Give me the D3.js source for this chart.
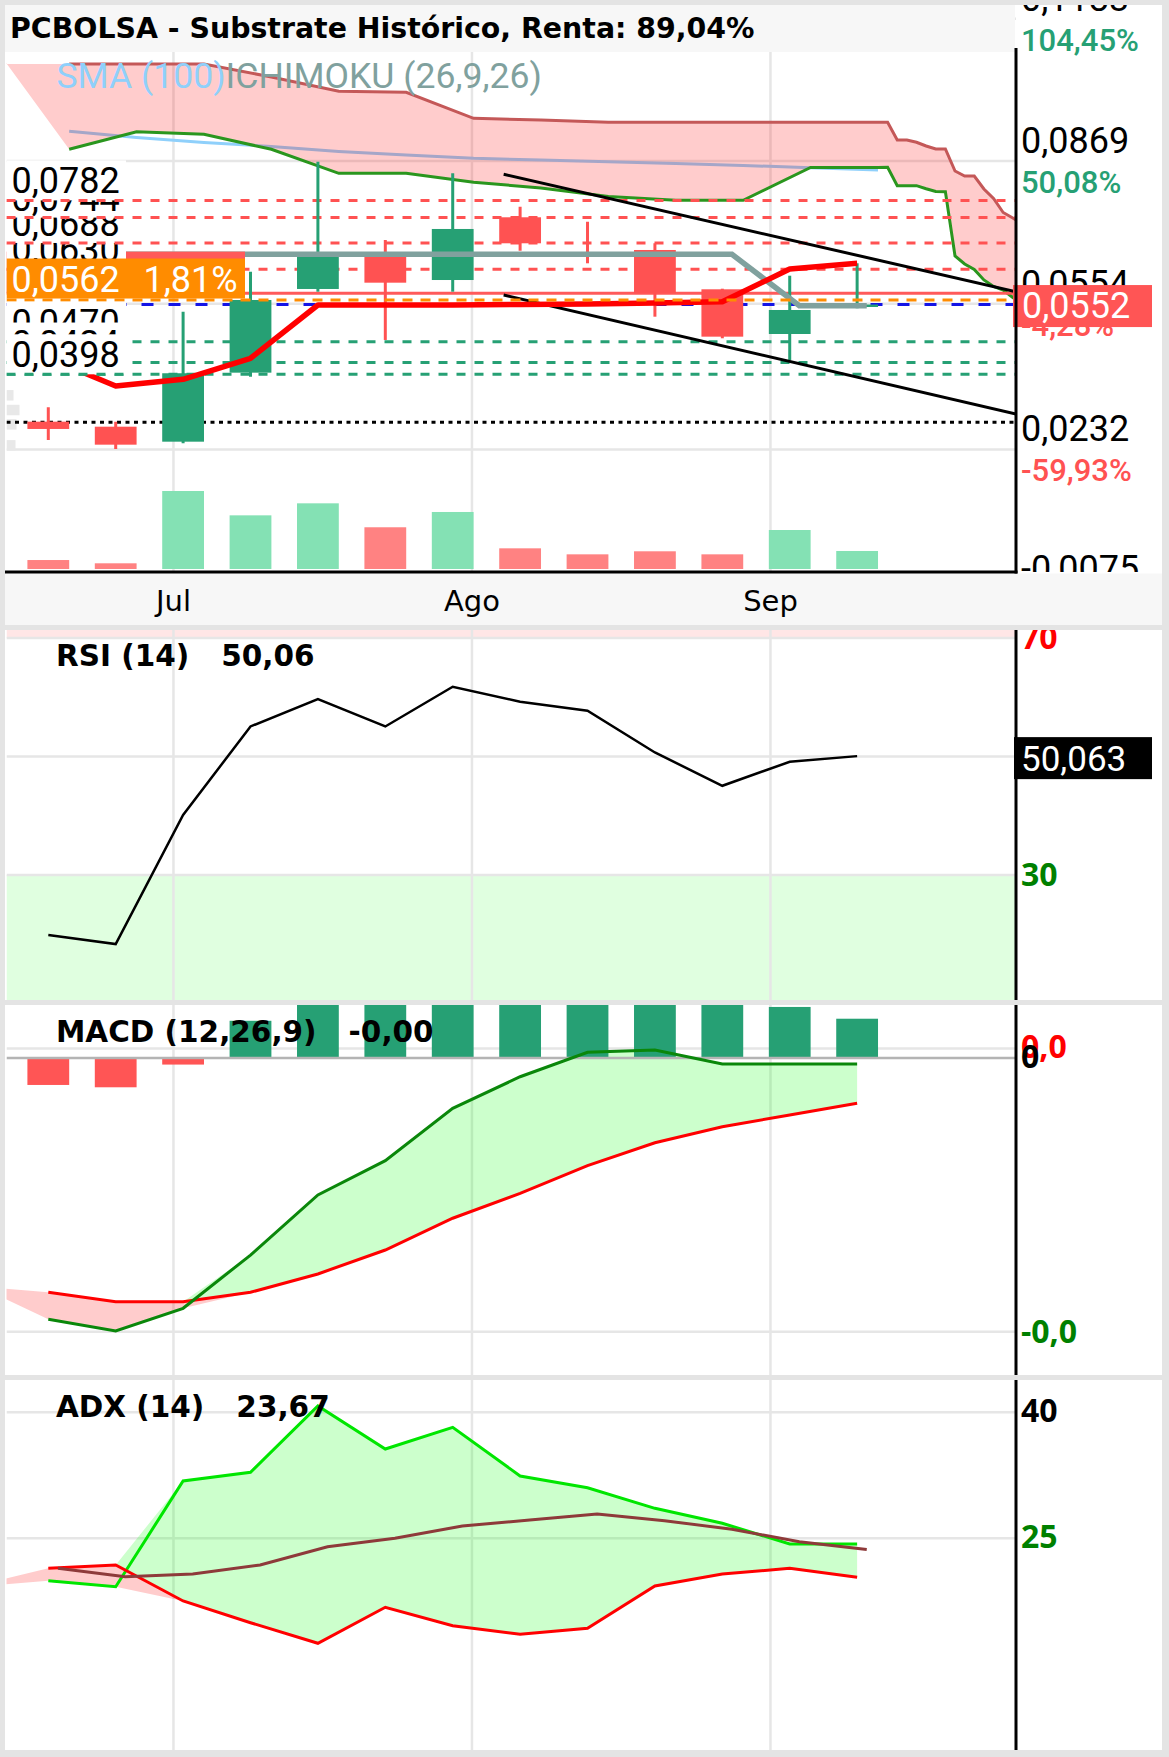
<!DOCTYPE html>
<html><head><meta charset="utf-8">
<script src="https://cdn.jsdelivr.net/npm/d3@7/dist/d3.min.js"></script>
<style>
html,body{margin:0;padding:0;background:#fff;}
svg{display:block;}
</style></head>
<body>
<svg id="chart" width="1169" height="1757"></svg>
<script>
// ================= DATA =================
const titleText = "PCBOLSA - Substrate Histórico, Renta: 89,04%";
const candleDates = ["2018-06-18","2018-06-25","2018-07-02","2018-07-09","2018-07-16","2018-07-23","2018-07-30","2018-08-06","2018-08-13","2018-08-20","2018-08-27","2018-09-03","2018-09-10"];
const openP  = [0.02934,0.02823,0.02492,0.04016,0.05864,0.06637,0.06062,0.07447,0.06650,0.06725,0.05857,0.04870,0.05466];
const highP  = [0.03252,0.02934,0.05363,0.06246,0.08675,0.06946,0.08418,0.07681,0.07350,0.06873,0.05870,0.06157,0.06431];
const lowP   = [0.02530,0.02331,0.02457,0.03927,0.05804,0.04738,0.05804,0.06709,0.06431,0.05252,0.04775,0.04296,0.05438];
const closeP = [0.02773,0.02426,0.04003,0.05621,0.06637,0.06003,0.07189,0.06873,0.06630,0.05769,0.04811,0.05400,0.05520];
const volume = [1150,730,10000,6880,8420,5350,7310,2650,1880,2270,1880,5000,2310];

// Ichimoku: fast (red, thick) on candle dates, slow (grey, thick) one day later
const tenkanRed = [0.0434,0.03722,0.0387,0.04334,0.0551,0.0551,0.0551,0.05522,0.05533,0.05555,0.05583,0.06305,0.06431];
const kijunDates = ["2018-06-19","2018-06-26","2018-07-03","2018-07-10","2018-07-17","2018-07-24","2018-07-31","2018-08-07","2018-08-14","2018-08-21","2018-08-28","2018-09-04","2018-09-11"];
const kijunGray = [0.0663,0.0663,0.0663,0.0663,0.0663,0.0663,0.0663,0.0663,0.0663,0.0663,0.0663,0.05495,0.05495];

// Cloud (senkou spans), weekly then daily projection
const cloudDates = ["2018-06-13T04:00:00Z","2018-06-20T04:00:00Z","2018-06-27T04:00:00Z","2018-07-04T04:00:00Z","2018-07-11T04:00:00Z","2018-07-18T04:00:00Z","2018-07-25T04:00:00Z","2018-08-01T04:00:00Z","2018-08-08T04:00:00Z","2018-08-15T04:00:00Z","2018-08-22T04:00:00Z","2018-08-29T04:00:00Z","2018-09-05T04:00:00Z","2018-09-12T04:00:00Z",
  "2018-09-13T04:00:00Z","2018-09-14T04:00:00Z","2018-09-15T04:00:00Z","2018-09-16T04:00:00Z","2018-09-17T04:00:00Z","2018-09-18T04:00:00Z","2018-09-19T04:00:00Z","2018-09-20T04:00:00Z","2018-09-21T04:00:00Z","2018-09-22T04:00:00Z","2018-09-23T04:00:00Z","2018-09-24T04:00:00Z","2018-09-25T04:00:00Z","2018-09-26T04:00:00Z","2018-09-27T04:00:00Z"];
const senkouA = [0.10986,0.08948,0.09337,0.09280,0.08948,0.08418,0.08418,0.08220,0.08094,0.07906,0.07822,0.07822,0.08546,0.08546,
  0.08551,0.08145,0.08145,0.08145,0.08078,0.08017,0.08012,0.06592,0.06416,0.06294,0.06063,0.05919,0.05842,0.05676,0.05533];
const senkouB = [0.10832,0.10832,0.10832,0.10832,0.10545,0.10229,0.10207,0.09633,0.09595,0.09544,0.09544,0.09544,0.09544,0.09544,
  0.09544,0.09154,0.09154,0.09103,0.09021,0.08955,0.08955,0.08469,0.08359,0.08359,0.08072,0.07862,0.07553,0.07431,0.07299];
const smaDates = ["2018-06-20T04:00:00Z","2018-06-27T04:00:00Z","2018-07-04T04:00:00Z","2018-07-11T04:00:00Z","2018-07-18T04:00:00Z","2018-07-25T04:00:00Z","2018-08-01T04:00:00Z","2018-08-08T04:00:00Z","2018-08-15T04:00:00Z","2018-08-22T04:00:00Z","2018-08-29T04:00:00Z","2018-09-05T04:00:00Z","2018-09-12T04:00:00Z"];
const sma100 = [0.09346,0.09209,0.09098,0.09010,0.08900,0.08822,0.08750,0.08712,0.08675,0.08635,0.08591,0.08542,0.08491];

// Channel trend lines
const trendDates = ["2018-08-04T07:00:00Z","2018-09-26T12:00:00Z"];
const trendUpper = [0.08396,0.05804];
const trendLower = [0.05731,0.03104];

// Horizontal levels
const resistLevels = [0.0630,0.0688,0.0744,0.0782];
const supportLevels = [0.0470,0.0424,0.0398];
const prevLevel = 0.0577;
const targetLevel = 0.0562;
const lastPrice = 0.0552;
const lowLevel = 0.0292;
const profilePrices = [0.03517,0.03192,0.02876,0.02412];
const profileVolume = [7,13,10,9];

// Axis ticks
const priceTicks = [0.1183,0.0869,0.0554,0.0232,-0.0075];
const priceTickPct = ["104,45%","50,08%","-4,28%","-59,93%","-112,95%"];
const monthLabels = ["Jul","Ago","Sep"];

// RSI
const rsi = [19.87,18.35,40.13,55.07,59.70,55.07,61.77,59.24,57.72,50.68,45.06,49.11,50.063];
const rsiGrid = [30,50,70];
const rsiTicks = [70,30];

// MACD (first point is the week before the first candle)
const macdDates = ["2018-06-11"].concat(candleDates);
const macdLine   = [-0.001676,-0.001909,-0.001995,-0.001829,-0.001440,-0.001001,-0.000750,-0.000368,-0.000137,0.0000417,0.0000585,-0.0000438,-0.0000438,-0.0000438];
const signalLine = [-0.001672,-0.001712,-0.001781,-0.001781,-0.001712,-0.001578,-0.001403,-0.001171,-0.000989,-0.000787,-0.000619,-0.000502,-0.000417,-0.000331];
const macdHist   = [-0.000197,-0.000214,-0.000048,0.000272,0.000577,0.000653,0.000803,0.000852,0.000829,0.000678,0.000458,0.000373,0.000287];
const macdTicks = [0.00007,0,-0.002];
const macdTickLabels = ["0,0","0","-0,0"];

// ADX
const plusDI  = [19.3,19.95,19.24,31.82,32.86,40.75,35.63,38.21,32.42,31.02,28.57,26.79,24.32,24.32];
const minusDI = [19.5,21.43,21.82,17.54,14.95,12.5,16.79,14.6,13.57,14.29,19.32,20.75,21.43,20.36];
const adx = [21.43,20.43,20.75,21.82,24.0,25.0,26.46,27.18,27.89,27.1,26.07,24.6,23.67];
const adxTicks = [40,25];

// ================= CHART =================
const W = 1169, H = 1757;
const X0 = 6.5, X1 = 1016, LBL_X = 1021;
const C = {
  up:"#26a074", down:"#ff5252", volUp:"#84e1b4", volDown:"#ff8282",
  grid:"#e6e6e6", frame:"#e4e4e4", band:"#f7f7f7",
  sma:"#8fd0fb", senA:"#2a961e", senB:"#c45858", cloud:"rgba(255,0,0,0.2)",
  tenkan:"#ff0000", kijun:"#80a19e", orange:"#ff8c00", blue:"#1414e6",
  green:"#008000", upFill:"rgba(0,255,0,0.2)", dnFill:"rgba(255,0,0,0.2)"
};
const loc = d3.formatLocale({decimal:",", thousands:".", grouping:[3], currency:["",""], minus:"-"});
const f4 = loc.format(".4f"), f3 = loc.format(".3f"), f2 = loc.format(".2f");
const s2 = v => (v < 0 ? "-" : "") + f2(Math.abs(v));
const pd = s => new Date(s);

const x = d3.scaleUtc().domain([pd("2018-06-13T15:49:00Z"), pd("2018-09-26T12:00:00Z")]).range([X0, X1]);
const P = {top:5, bottom:572}, R = {top:630, bottom:1000}, M = {top:1005, bottom:1375}, A = {top:1380, bottom:1750};
const yP = d3.scaleLinear().domain([-0.0075, 0.1183]).range([588.5, 18.8]);
const yV = d3.scaleLinear().domain([0, 10000]).range([569, 491]);
const yR = d3.scaleLinear().domain([30, 70]).range([875, 638]);
const yM = d3.scaleLinear().domain([-0.002, 0]).range([1331.7, 1058]);
const yA = d3.scaleLinear().domain([25, 40]).range([1538.3, 1412.3]);

const svg = d3.select("#chart");
const defs = svg.append("defs");
function addClip(id, x0, y0, x1, y1){
  defs.append("clipPath").attr("id", id).append("rect")
    .attr("x", x0).attr("y", y0).attr("width", x1 - x0).attr("height", y1 - y0);
  return `url(#${id})`;
}
svg.append("rect").attr("width", W).attr("height", H).attr("fill", "#fff");

const months = x.ticks(d3.utcMonth.every(1));
function vGrid(g, y0, y1){
  g.append("g").selectAll("line").data(months).join("line")
    .attr("x1", d => x(d)).attr("x2", d => x(d)).attr("y1", y0).attr("y2", y1)
    .attr("stroke", C.grid).attr("stroke-width", 2.5);
}
function hLine(g, yy, color, width, dash, xa = X0, xb = X1){
  const l = g.append("line").attr("x1", xa).attr("x2", xb).attr("y1", yy).attr("y2", yy)
    .attr("stroke", color).attr("stroke-width", width);
  if (dash) l.attr("stroke-dasharray", dash);
  return l;
}
function txt(g, xx, yy, s, font, size, color, weight){
  return g.append("text").attr("x", xx).attr("y", yy).text(s)
    .style("font-family", font).style("font-size", size + "px")
    .style("font-weight", weight || 400).attr("fill", color);
}
const ROBOTO = "Roboto, 'Liberation Sans', sans-serif";
const OPEN = "'Open Sans', 'Noto Sans', sans-serif";
const DEJA = "'DejaVu Sans', sans-serif";
const PRICE_FS = 36;

// ---------- PRICE PANEL ----------
const candles = candleDates.map((d, i) => ({date: pd(d), o: openP[i], h: highP[i], l: lowP[i], c: closeP[i], v: volume[i]}));
const gP = svg.append("g").attr("clip-path", addClip("clipP", X0, P.top, X1, P.bottom));
vGrid(gP, P.top, P.bottom);
priceTicks.forEach(v => hLine(gP, yP(v), C.grid, 2.5));

// volume profile
const prScale = d3.scaleLinear().domain([0, 13]).range([0, 13]);
gP.append("g").selectAll("rect").data(profilePrices).join("rect")
  .attr("x", X0).attr("y", d => yP(d) - 5.2).attr("height", 10.5)
  .attr("width", (d, i) => prScale(profileVolume[i])).attr("fill", "#e8e8e8");

// SMA then cloud
const lineXY = (xs, ys, yScale) => xs.map((d, i) => [x(pd(d)), yScale(ys[i])]);
gP.append("path").attr("d", d3.line()(lineXY(smaDates, sma100, yP)))
  .attr("fill", "none").attr("stroke", C.sma).attr("stroke-width", 3);
const cloud = cloudDates.map((d, i) => ({date: pd(d), a: senkouA[i], b: senkouB[i]}));
gP.append("path").datum(cloud)
  .attr("d", d3.area().x(d => x(d.date)).y0(d => yP(d.b)).y1(d => yP(d.a)))
  .attr("fill", C.cloud);
gP.append("path").attr("d", d3.line()(cloud.slice(1).map(d => [x(d.date), yP(d.b)])))
  .attr("fill", "none").attr("stroke", C.senB).attr("stroke-width", 3);
gP.append("path").attr("d", d3.line()(cloud.slice(1).map(d => [x(d.date), yP(d.a)])))
  .attr("fill", "none").attr("stroke", C.senA).attr("stroke-width", 3);

// horizontal levels (under candles)
resistLevels.forEach(v => hLine(gP, yP(v), C.down, 3, "9,9"));
supportLevels.forEach(v => hLine(gP, yP(v), C.up, 3, "9,9"));
hLine(gP, yP(lowLevel), "#000", 3, "4,4.5");
hLine(gP, yP(prevLevel), "#ff5a5a", 3);
hLine(gP, yP(lastPrice), C.blue, 3, "12,15");

// volume
const bw = (x(candles[1].date) - x(candles[0].date)) * 0.62;
gP.append("g").selectAll("rect").data(candles).join("rect")
  .attr("x", d => x(d.date) - bw / 2).attr("width", bw)
  .attr("y", d => yV(d.v)).attr("height", d => yV(0) - yV(d.v))
  .attr("fill", d => d.c >= d.o ? C.volUp : C.volDown);

// candles
const cg = gP.append("g");
cg.selectAll("line").data(candles).join("line")
  .attr("x1", d => x(d.date)).attr("x2", d => x(d.date))
  .attr("y1", d => yP(d.h)).attr("y2", d => yP(d.l))
  .attr("stroke", d => d.c >= d.o ? C.up : C.down).attr("stroke-width", 3);
cg.selectAll("rect").data(candles).join("rect")
  .attr("x", d => x(d.date) - bw / 2).attr("width", bw)
  .attr("y", d => yP(Math.max(d.o, d.c)))
  .attr("height", d => Math.max(1, Math.abs(yP(d.o) - yP(d.c))))
  .attr("fill", d => d.c >= d.o ? C.up : C.down);

// trend lines
[trendUpper, trendLower].forEach(t => {
  gP.append("path").attr("d", d3.line()(lineXY(trendDates, t, yP)))
    .attr("fill", "none").attr("stroke", "#000").attr("stroke-width", 3);
});
// ichimoku fast/slow lines
gP.append("path").attr("d", d3.line()(lineXY(kijunDates, kijunGray, yP)))
  .attr("fill", "none").attr("stroke", C.kijun).attr("stroke-width", 5.5);
gP.append("path").attr("d", d3.line()(lineXY(candleDates, tenkanRed, yP)))
  .attr("fill", "none").attr("stroke", C.tenkan).attr("stroke-width", 5.5).attr("stroke-linejoin", "round");
hLine(gP, yP(targetLevel), C.orange, 3, "10,8");

// left level labels
const LB_X1 = 126;
gP.append("rect").attr("x", X0).attr("y", yP(prevLevel) - 41.6).attr("width", 245 - X0).attr("height", 41.6).attr("fill", "#ff5a5a");
function levelLabel(v, color){
  const yy = yP(v);
  gP.append("rect").attr("x", X0).attr("y", yy - 40).attr("width", LB_X1 - X0).attr("height", 40).attr("fill", "#fff");
  txt(gP, 11.5, yy - 7, f4(v), ROBOTO, PRICE_FS, "#000");
  hLine(gP, yy, color, 3, "9,9", X0, LB_X1);
}
resistLevels.forEach(v => levelLabel(v, C.down));
supportLevels.forEach(v => levelLabel(v, C.up));
// target label (orange)
const ty = yP(targetLevel);
gP.append("rect").attr("x", X0).attr("y", ty - 41.5).attr("width", 245 - X0).attr("height", 40).attr("fill", C.orange);
txt(gP, 11.5, ty - 8.5, f4(targetLevel), ROBOTO, PRICE_FS, "#fff");
txt(gP, 143.5, ty - 8.5, f2((targetLevel / lastPrice - 1) * 100) + "%", ROBOTO, PRICE_FS, "#fff");

// legend
const smaT = txt(gP, 56.5, 88, "SMA (100)", ROBOTO, 35.6, C.sma);
txt(gP, 56.5 + smaT.node().getComputedTextLength(), 88, "ICHIMOKU (26,9,26)", ROBOTO, 35.6, C.kijun);

// right axis labels (price)
const gPA = svg.append("g").attr("clip-path", addClip("clipPA", X1, 0, 1162, P.bottom));
priceTicks.forEach((v, i) => {
  txt(gPA, LBL_X, yP(v) - 8, f4(v), ROBOTO, PRICE_FS, "#000");
  txt(gPA, LBL_X, yP(v) + 32, priceTickPct[i], ROBOTO, 31, priceTickPct[i].startsWith("-") ? C.down : C.up, 500);
});
const ly = yP(lastPrice);
svg.append("rect").attr("x", 1013).attr("y", ly - 19.5).attr("width", 139).attr("height", 42).attr("fill", "#ff5555");
txt(svg, 1022, ly + 13.5, f4(lastPrice), ROBOTO, PRICE_FS, "#fff");

// ---------- RSI PANEL ----------
const gR = svg.append("g").attr("clip-path", addClip("clipR", X0, R.top, X1, R.bottom));
gR.append("rect").attr("x", X0).attr("width", X1 - X0).attr("y", R.top).attr("height", yR(70) - R.top).attr("fill", "#ffe6e6");
gR.append("rect").attr("x", X0).attr("width", X1 - X0).attr("y", yR(30)).attr("height", R.bottom - yR(30)).attr("fill", "#e0ffe0");
vGrid(gR, R.top, R.bottom);
rsiGrid.forEach(v => hLine(gR, yR(v), C.grid, 2.5));
gR.append("path").attr("d", d3.line()(lineXY(candleDates, rsi, yR)))
  .attr("fill", "none").attr("stroke", "#000").attr("stroke-width", 2.5);
const gRA = svg.append("g").attr("clip-path", addClip("clipRA", X1, R.top, 1162, R.bottom));
rsiTicks.forEach(v => txt(gRA, LBL_X, yR(v) + 10.5, String(v), OPEN, 32, v >= 50 ? "#ff0000" : C.green, 700));
const rl = yR(rsi[rsi.length - 1]);
svg.append("rect").attr("x", 1014).attr("y", rl - 19).attr("width", 138).attr("height", 42).attr("fill", "#000");
txt(svg, LBL_X, rl + 14.5, f3(rsi[rsi.length - 1]), ROBOTO, 35, "#fff");

// ---------- MACD PANEL ----------
const gM = svg.append("g").attr("clip-path", addClip("clipM", X0, M.top, X1, M.bottom));
vGrid(gM, M.top, M.bottom);
hLine(gM, yM(macdTicks[0]), C.grid, 2.5);
hLine(gM, yM(macdTicks[2]), C.grid, 2.5);
const md = macdDates.map((d, i) => ({date: pd(d), m: macdLine[i], s: signalLine[i]}));
gM.append("path").datum(md).attr("fill", C.upFill)
  .attr("d", d3.area().x(d => x(d.date)).y0(d => yM(d.s)).y1(d => yM(Math.max(d.m, d.s))));
gM.append("path").datum(md).attr("fill", C.dnFill)
  .attr("d", d3.area().x(d => x(d.date)).y0(d => yM(d.s)).y1(d => yM(Math.min(d.m, d.s))));
gM.append("g").selectAll("rect").data(macdHist).join("rect")
  .attr("x", (d, i) => x(pd(candleDates[i])) - bw / 2).attr("width", bw)
  .attr("y", d => yM(Math.max(0, d))).attr("height", d => Math.abs(yM(d) - yM(0)))
  .attr("fill", d => d >= 0 ? C.up : "#ff5555");
hLine(gM, yM(0), "#b4b4b4", 2.5);
gM.append("path").attr("d", d3.line()(md.slice(1).map(d => [x(d.date), yM(d.s)])))
  .attr("fill", "none").attr("stroke", "#ff0000").attr("stroke-width", 3);
gM.append("path").attr("d", d3.line()(md.slice(1).map(d => [x(d.date), yM(d.m)])))
  .attr("fill", "none").attr("stroke", "#0a870a").attr("stroke-width", 3);
const gMA = svg.append("g").attr("clip-path", addClip("clipMA", X1, M.top, 1162, M.bottom));
txt(gMA, LBL_X, yM(macdTicks[0]) + 10, macdTickLabels[0], OPEN, 32, "#ff0000", 700);
txt(gMA, LBL_X, yM(macdTicks[1]) + 10, macdTickLabels[1], OPEN, 32, "#000", 700);
txt(gMA, LBL_X, yM(macdTicks[2]) + 11.5, macdTickLabels[2], OPEN, 32, C.green, 700);

// ---------- ADX PANEL ----------
const gA = svg.append("g").attr("clip-path", addClip("clipA", X0, A.top, X1, A.bottom));
vGrid(gA, A.top, A.bottom);
adxTicks.forEach(v => hLine(gA, yA(v), C.grid, 2.5));
const ad = macdDates.map((d, i) => ({date: pd(d), p: plusDI[i], n: minusDI[i]}));
gA.append("path").datum(ad).attr("fill", C.upFill)
  .attr("d", d3.area().x(d => x(d.date)).y0(d => yA(d.n)).y1(d => yA(Math.max(d.p, d.n))));
gA.append("path").datum(ad).attr("fill", C.dnFill)
  .attr("d", d3.area().x(d => x(d.date)).y0(d => yA(d.n)).y1(d => yA(Math.min(d.p, d.n))));
gA.append("path").attr("d", d3.line()(ad.slice(1).map(d => [x(d.date), yA(d.p)])))
  .attr("fill", "none").attr("stroke", "#00e600").attr("stroke-width", 3);
gA.append("path").attr("d", d3.line()(ad.slice(1).map(d => [x(d.date), yA(d.n)])))
  .attr("fill", "none").attr("stroke", "#ff0000").attr("stroke-width", 3);
gA.append("path").attr("d", d3.line()(lineXY(kijunDates, adx, yA)))
  .attr("fill", "none").attr("stroke", "#8e3a3a").attr("stroke-width", 3);
const gAA = svg.append("g").attr("clip-path", addClip("clipAA", X1, A.top, 1162, A.bottom));
adxTicks.forEach(v => txt(gAA, LBL_X, yA(v) + 10, String(v), OPEN, 32, v > 30 ? "#000" : C.green, 700));

// ---------- HEADERS ----------
function header(label, value, yy){
  const t = txt(svg, 56, yy, label, DEJA, 29.5, "#000", 700);
  txt(svg, 56 + t.node().getComputedTextLength() + 32, yy, value, DEJA, 29.5, "#000", 700);
}
header("RSI (14)", s2(rsi[rsi.length - 1]), 665.7);
header("MACD (12,26,9)", s2(macdLine[macdLine.length - 1]), 1041.7);
header("ADX (14)", s2(adx[adx.length - 1]), 1416.7);

// ---------- FRAME, BANDS, AXES ----------
svg.append("rect").attr("x", 5).attr("y", 5).attr("width", 1010).attr("height", 47).attr("fill", C.band);
txt(svg, 10, 37.5, titleText, DEJA, 28.4, "#000", 700);
svg.append("rect").attr("x", 5).attr("y", 573.5).attr("width", 1157).attr("height", 51.5).attr("fill", C.band);
svg.append("rect").attr("x", 5).attr("y", 625).attr("width", 1157).attr("height", 5).attr("fill", C.frame);
svg.append("rect").attr("x", 5).attr("y", 1000).attr("width", 1157).attr("height", 5).attr("fill", C.frame);
svg.append("rect").attr("x", 5).attr("y", 1375).attr("width", 1157).attr("height", 5).attr("fill", C.frame);
monthLabels.forEach((m, i) => {
  txt(svg, x(months[i]), 611, m, DEJA, 29, "#000").attr("text-anchor", "middle");
});
hLine(svg, 572, "#000", 3, null, 5, 1017.5);
[[48, 573.5], [R.top, R.bottom], [M.top, M.bottom], [A.top, A.bottom]].forEach(([a, b]) => {
  svg.append("line").attr("x1", X1).attr("x2", X1).attr("y1", a).attr("y2", b).attr("stroke", "#000").attr("stroke-width", 3);
});
svg.append("rect").attr("x", 0).attr("y", 0).attr("width", W).attr("height", 5).attr("fill", C.frame);
svg.append("rect").attr("x", 0).attr("y", 0).attr("width", 5).attr("height", H).attr("fill", C.frame);
svg.append("rect").attr("x", 1162).attr("y", 0).attr("width", 7).attr("height", H).attr("fill", C.frame);
svg.append("rect").attr("x", 0).attr("y", 1750).attr("width", W).attr("height", 7).attr("fill", C.frame);
</script>
</body></html>
